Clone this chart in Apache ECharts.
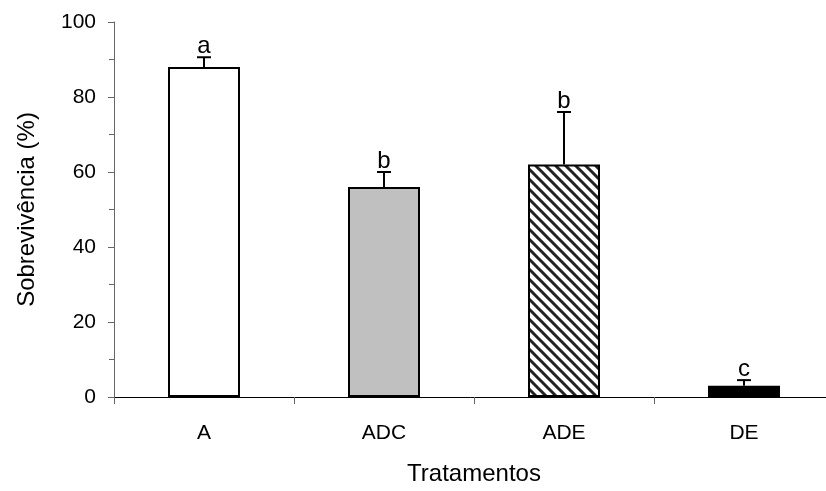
<!DOCTYPE html>
<html>
<head>
<meta charset="utf-8">
<script src="https://cdn.jsdelivr.net/npm/echarts@6/dist/echarts.min.js"></script>
<style>
  html, body { margin: 0; padding: 0; background: #fff; }
  #chart { width: 826px; height: 491px; }
</style>
</head>
<body>
<div id="chart"></div>
<script>
// dados
var categories = ['A', 'ADC', 'ADE', 'DE'];
var means = [88, 56, 62, 3];
var errors = [2.6, 4, 14, 1.5];
var letters = ['a', 'b', 'b', 'c'];

// hachura diagonal para ADE
function hatch() {
    var c = document.createElement('canvas');
    c.width = 10; c.height = 10;
    var ctx = c.getContext('2d');
    ctx.fillStyle = '#fff';
    ctx.fillRect(0, 0, 10, 10);
    ctx.strokeStyle = '#222';
    ctx.lineWidth = 3;
    ctx.beginPath();
    ctx.moveTo(-1, -1); ctx.lineTo(11, 11);
    ctx.moveTo(9, -1); ctx.lineTo(11, 1);
    ctx.moveTo(-1, 9); ctx.lineTo(1, 11);
    ctx.stroke();
    return c;
}

var fills = ['#ffffff', '#c0c0c0', { image: hatch(), repeat: 'repeat' }, '#000000'];

var barData = means.map(function (v, i) {
    return { value: v, itemStyle: { color: fills[i] } };
});
var errData = means.map(function (v, i) {
    return [i, v, v + errors[i], letters[i]];
});

var font = 'Liberation Sans, Arial, sans-serif';
var myChart = echarts.init(document.getElementById('chart'));

myChart.setOption({
    animation: false,
    grid: { left: 114, top: 22, bottom: 94, right: -8, outerBoundsMode: 'none' },
    xAxis: {
        type: 'category',
        data: categories,
        name: 'Tratamentos',
        nameLocation: 'middle',
        nameGap: 65,
        nameTextStyle: { fontFamily: font, fontSize: 24, color: '#000' },
        axisLine: { lineStyle: { color: '#000', width: 1 } },
        axisTick: { show: true, length: 7, lineStyle: { color: '#666' } },
        axisLabel: { margin: 26, fontFamily: font, fontSize: 21, color: '#000' }
    },
    yAxis: {
        type: 'value',
        min: 0,
        max: 100,
        interval: 20,
        name: 'Sobrevivência (%)',
        nameLocation: 'middle',
        nameGap: 75,
        nameTextStyle: { fontFamily: font, fontSize: 24, color: '#000' },
        splitLine: { show: false },
        axisLine: { show: true, lineStyle: { color: '#666', width: 1 } },
        axisTick: { show: true, length: 6, lineStyle: { color: '#666' } },
        minorTick: { show: true, splitNumber: 2, length: 5, lineStyle: { color: '#666' } },
        axisLabel: { margin: 18, fontFamily: font, fontSize: 21, color: '#000' }
    },
    series: [
        {
            type: 'bar',
            data: barData,
            barWidth: 72,
            itemStyle: { borderColor: '#000', borderWidth: 2 }
        },
        {
            type: 'custom',
            data: errData,
            z: 10,
            renderItem: function (params, api) {
                var base = api.coord([api.value(0), api.value(1)]);
                var top = api.coord([api.value(0), api.value(2)]);
                var half = 7;
                return {
                    type: 'group',
                    children: [
                        {
                            type: 'line',
                            shape: { x1: base[0], y1: base[1], x2: top[0], y2: top[1] },
                            style: { stroke: '#000', lineWidth: 2 }
                        },
                        {
                            type: 'line',
                            shape: { x1: top[0] - half, y1: top[1], x2: top[0] + half, y2: top[1] },
                            style: { stroke: '#000', lineWidth: 2 }
                        },
                        {
                            type: 'text',
                            x: top[0],
                            y: top[1] + 1,
                            style: {
                                text: letters[params.dataIndex],
                                fontFamily: font,
                                fontSize: 24,
                                fill: '#000',
                                align: 'center',
                                verticalAlign: 'bottom'
                            }
                        }
                    ]
                };
            }
        }
    ]
});
</script>
</body>
</html>
